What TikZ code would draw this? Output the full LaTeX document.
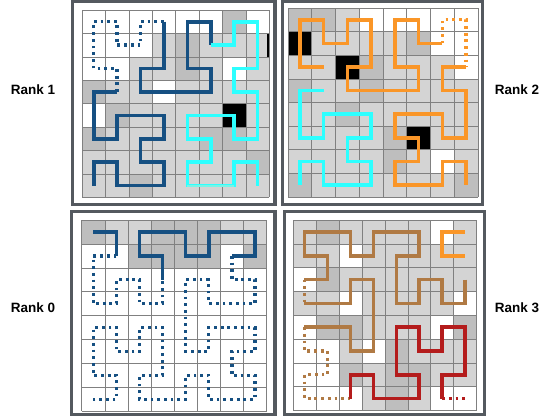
\documentclass[tikz,border=0pt]{standalone}
\usepackage{fontspec}
\setmainfont{Liberation Sans}
\usetikzlibrary{positioning}

\definecolor{framegray}{RGB}{84,89,95}
\definecolor{linegray}{RGB}{128,128,128}
\definecolor{cellL}{RGB}{212,212,212}
\definecolor{cellM}{RGB}{190,190,190}
\definecolor{rankblue}{RGB}{22,80,130}
\definecolor{rankcyan}{RGB}{45,255,255}
\definecolor{rankcyanlt}{RGB}{120,245,230}
\definecolor{rankorange}{RGB}{250,150,40}
\definecolor{rankbrown}{RGB}{176,122,68}
\definecolor{rankred}{RGB}{180,28,28}

% fill a list of cells col/row
\newcommand{\cells}[2]{\foreach \c/\r in {#2} {\fill[#1] (\c,\r) rectangle ++(1,1);}}
\newcommand{\gridlines}{\foreach \i in {0,...,8} {\draw[gridln] (\i,0) -- (\i,8); \draw[gridln] (0,\i) -- (8,\i);}}

\begin{document}
\begin{tikzpicture}[x=1pt, y=-1pt,
    frame/.style={draw=framegray, line width=3.3pt},
    gridln/.style={draw=linegray, line width=0.6pt},
    solidpath/.style={line width=3.6pt},
    dotpath/.style={line width=3.3pt, dash pattern=on 2.8pt off 3.9pt},
    lbl/.style={font=\bfseries\fontsize{13.5}{16}\selectfont},
]
\useasboundingbox (0,0) rectangle (548,416);

% frames
\draw[frame] (72.6,1.6) rectangle (275,204.4);
\draw[frame] (282.6,1.6) rectangle (482.6,204.4);
\draw[frame] (71.6,211.6) rectangle (275,414.4);
\draw[frame] (284.6,211.6) rectangle (484.6,414.4);

% labels
\node[lbl] (rank1) at (33,90) {Rank 1};
\node[lbl] (rank2) at (517,90) {Rank 2};
\node[lbl] (rank0) at (33,308) {Rank 0};
\node[lbl] (rank3) at (517,308) {Rank 3};

% Rank 1
\begin{scope}[shift={(82,10)}, x=23.4pt, y=-23.4pt]
  \fill[cellL] (0,0) rectangle (8,8);
  \cells{white}{0/0,1/0,2/0,3/0,4/0,5/0,7/0,0/1,1/1,2/1,0/2,1/2,6/2,3/3,0/4}
  \cells{cellM}{6/0,4/1,4/2,0/3,1/4,0/5,5/5,6/5,7/6,2/7}
  \cells{black}{6/4}
  \fill[black] (7.9,1) rectangle (8,2);
  \gridlines
  \begin{scope}[shift={(0.5,0.5)}]
    \draw[rankblue, solidpath] plot coordinates {(0,7) (0,6) (1,6) (1,7) (3,7) (3,6) (2,6) (2,5) (3,5) (3,4) (1,4) (1,5) (0,5) (0,3) (1,3)};
    \draw[rankblue, dotpath] plot coordinates {(1,3) (1,2) (0,2) (0,0) (1,0) (1,1) (2,1) (2,0) (3,0)};
    \draw[rankblue, solidpath] plot coordinates {(3,0) (3,2) (2,2) (2,3) (5,3) (5,2) (4,2) (4,0) (5,0) (5,1)};
    \draw[rankcyan, solidpath] plot coordinates {(5,1) (6,1) (6,0) (7,0) (7,2) (6,2) (6,3) (7,3) (7,5) (6,5) (6,4) (4,4) (4,5) (5,5) (5,6) (4,6) (4,7) (6,7) (6,6) (7,6) (7,7)};
    \draw[rankcyanlt, line width=2pt] (4,7) -- (6,7);
  \end{scope}
\end{scope}

% Rank 2
\begin{scope}[shift={(288,8)}, x=23.75pt, y=-23.6pt]
  \fill[cellL] (0,0) rectangle (8,8);
  \cells{white}{3/0,4/0,5/0,6/0,7/0,6/1,7/1,7/2,6/6}
  \cells{cellM}{0/0,1/0,5/1,3/2,0/3,3/3,2/4,4/5,4/6,0/7,7/7}
  \cells{black}{0/1,2/2,5/5}
  \gridlines
  \begin{scope}[shift={(0.5,0.5)}]
    \draw[rankcyan, solidpath] plot coordinates {(0,7) (0,6) (1,6) (1,7) (3,7) (3,6) (2,6) (2,5) (3,5) (3,4) (1,4) (1,5) (0,5) (0,3) (1,3)};
    \draw[rankorange, solidpath] plot coordinates {(1,2) (0,2) (0,0) (1,0) (1,1) (2,1) (2,0) (3,0) (3,2) (2,2) (2,3) (5,3) (5,2) (4,2) (4,0) (5,0) (5,1) (6,1)};
    \draw[rankorange, dotpath] plot coordinates {(6,1) (6,0) (7,0) (7,2)};
    \draw[rankorange, solidpath] plot coordinates {(7,2) (6,2) (6,3) (7,3) (7,5) (6,5) (6,4) (4,4) (4,5) (5,5) (5,6) (4,6) (4,7) (6,7) (6,6) (7,6) (7,7)};
  \end{scope}
\end{scope}

% Rank 0
\begin{scope}[shift={(81.7,220)}, x=23.1pt, y=-23.9pt]
  \fill[cellL] (0,0) rectangle (8,2);
  \fill[white] (0,2) rectangle (8,8);
  \cells{white}{0/1,1/1,6/1}
  \cells{cellM}{0/0,3/0,4/0,5/0,2/1,3/1,4/1,5/1,7/1}
  \gridlines
  \begin{scope}[shift={(0.5,0.5)}]
    \draw[rankblue, solidpath] plot coordinates {(0,0) (1,0) (1,1)};
    \draw[rankblue, dotpath] plot coordinates {(1,1) (0,1) (0,3) (1,3) (1,2) (2,2) (2,3) (3,3) (3,2)};
    \draw[rankblue, solidpath] plot coordinates {(3,2) (3,1) (2,1) (2,0) (4,0) (4,1) (5,1) (5,0) (7,0) (7,1) (6,1)};
    \draw[rankblue, dotpath] plot coordinates {(6,1) (6,2) (7,2) (7,3) (5,3) (5,2) (4,2) (4,5) (5,5) (5,4) (7,4) (7,5) (6,5) (6,6) (7,6) (7,7) (5,7) (5,6) (4,6) (4,7) (2,7) (2,6) (3,6) (3,4) (2,4) (2,5) (1,5) (1,4) (0,4) (0,6) (1,6) (1,7) (0,7)};
  \end{scope}
\end{scope}

% Rank 3
\begin{scope}[shift={(293,220)}, x=22.96pt, y=-23.8pt]
  \fill[cellL] (0,0) rectangle (8,8);
  \cells{white}{6/0,2/1,0/2,2/3,7/3,0/4,6/4,0/5,1/5,3/5,0/6,1/6,0/7,1/7,2/7,6/7,7/7}
  \cells{cellM}{1/0,1/2,1/4,2/4,7/4,4/5,2/6,4/6,5/6,4/7}
  \gridlines
  \begin{scope}[shift={(0.5,0.5)}]
    \draw[rankorange, solidpath] plot coordinates {(7,0) (6,0) (6,1) (7,1)};
    \draw[rankbrown, solidpath] plot coordinates {(7,2) (7,3) (6,3) (6,2) (5,2) (5,3) (4,3) (4,1) (5,1) (5,0) (3,0) (3,1) (2,1) (2,0) (0,0) (0,1) (1,1) (1,2) (0,2)};
    \draw[rankbrown, dotpath] plot coordinates {(0,2) (0,3)};
    \draw[rankbrown, solidpath] plot coordinates {(0,3) (2,3) (2,2) (3,2) (3,5) (2,5) (2,4) (0,4)};
    \draw[rankbrown, dotpath] plot coordinates {(0,4) (0,5) (1,5) (1,6) (0,6) (0,7) (2,7)};
    \draw[rankred, solidpath] plot coordinates {(2,7) (2,6) (3,6) (3,7) (5,7) (5,6) (4,6) (4,4) (5,4) (5,5) (6,5) (6,4) (7,4) (7,6) (6,6) (6,7)};
    \draw[rankred, dotpath] plot coordinates {(6,7) (7,7)};
  \end{scope}
\end{scope}
\end{tikzpicture}
\end{document}
